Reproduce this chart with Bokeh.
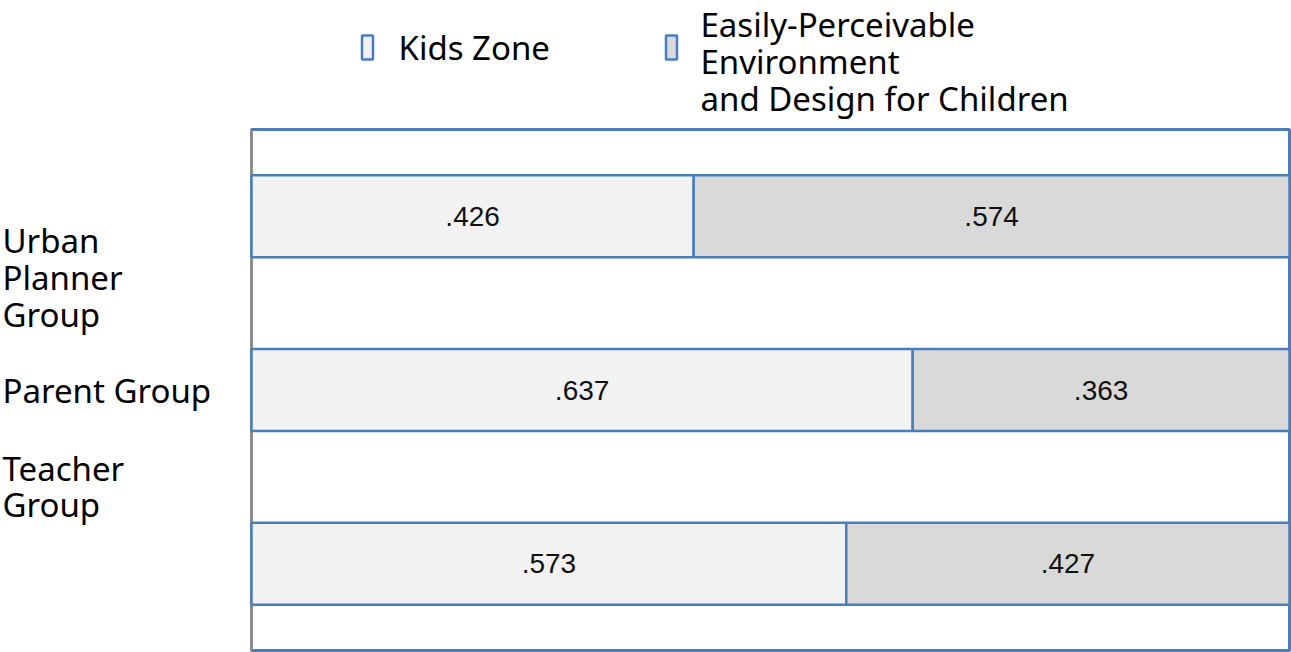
from bokeh.plotting import figure
from bokeh.models import Range1d, ColumnDataSource
from bokeh.embed import file_html
from bokeh.resources import INLINE
from bokeh.core.properties import value

# ---- data ----
groups = ["Urban Planner Group", "Parent Group", "Teacher Group"]
group_labels = ["Urban\nPlanner\nGroup", "Parent Group", "Teacher\nGroup"]
series_names = ["Kids Zone", "Easily-Perceivable\nEnvironment\nand Design for Children"]
kids_zone = [0.426, 0.637, 0.573]
easily_perceivable = [0.574, 0.363, 0.427]

# ---- styles ----
BLUE = "#4a7ebb"
GREY = "#8c8c8c"
LIGHT = "#f2f2f2"
DARK = "#d9d9d9"
MAIN_FONT = "Noto Sans"
NUM_FONT = "Liberation Sans"

def fmt(v):
    return f"{v:.3f}".lstrip("0")

# ---- layout (pixels) ----
W, H = 1291, 652
FX0, FX1 = 251, 1289      # plot box left/right
FY0, FY1 = 129, 650       # plot box top/bottom
n = len(groups)
UNIT = (FY1 - FY0) / n    # px per category
XS = FX1 - FX0            # px per unit share

def px_x(px):
    return (px - FX0) / XS

def px_y(py):
    return (py - FY0) / UNIT

p = figure(width=W, height=H, output_backend="svg", toolbar_location=None,
           x_range=Range1d(px_x(0), px_x(W)),
           y_range=Range1d(px_y(H), px_y(0)),
           x_axis_location=None, y_axis_location=None,
           min_border_left=0, min_border_top=0,
           min_border_right=0, min_border_bottom=0)
p.xgrid.visible = False
p.ygrid.visible = False
p.outline_line_color = None
p.background_fill_color = "white"
p.border_fill_color = "white"

# plot box
p.quad(left=0, right=1, top=0, bottom=n, fill_color="white",
       line_color=BLUE, line_width=3)
p.segment(x0=0, y0=0, x1=0, y1=n, line_color=GREY, line_width=3)

ycent = [i + 0.5 for i in range(n)]
right2 = [a + b for a, b in zip(kids_zone, easily_perceivable)]
src = ColumnDataSource(dict(
    y=ycent,
    k=kids_zone,
    r=right2,
    kx=[a / 2 for a in kids_zone],
    ex=[a + b / 2 for a, b in zip(kids_zone, easily_perceivable)],
    kt=[fmt(v) for v in kids_zone],
    et=[fmt(v) for v in easily_perceivable],
))
BAR_H = 82 / UNIT
p.hbar(y="y", left=0, right="k", height=BAR_H, source=src,
       fill_color=LIGHT, line_color=BLUE, line_width=2.5)
p.hbar(y="y", left="k", right="r", height=BAR_H, source=src,
       fill_color=DARK, line_color=BLUE, line_width=2.5)
for xcol, tcol in (("kx", "kt"), ("ex", "et")):
    p.text(x=xcol, y="y", text=tcol, source=src, text_align="center",
           text_baseline="middle", text_font=value(NUM_FONT), text_font_size="28px",
           text_color="#111111")

# category labels at the left
LH = 0.82
cat_y_px = [277, 390, 486]
p.text(x=[px_x(2)] * n, y=[px_y(v) for v in cat_y_px], text=group_labels,
       text_align="left", text_baseline="middle",
       text_font=value(MAIN_FONT), text_font_size="33px",
       text_line_height=LH, text_color="black")

# legend
sw_x_px = [367, 671]
sw_y_px = [47, 47]
txt_x_px = [398, 700]
txt_y_px = [47, 61]
fills = [LIGHT, DARK]
p.rect(x=[px_x(v) for v in sw_x_px], y=[px_y(v) for v in sw_y_px],
       width=11, height=24, width_units="screen", height_units="screen",
       fill_color=fills, line_color=BLUE, line_width=2.5)
p.text(x=[px_x(v) for v in txt_x_px], y=[px_y(v) for v in txt_y_px], text=series_names,
       text_align="left", text_baseline="middle",
       text_font=value(MAIN_FONT), text_font_size="33px",
       text_line_height=LH, text_color="black")

open("out.html", "w").write(file_html(p, INLINE))
